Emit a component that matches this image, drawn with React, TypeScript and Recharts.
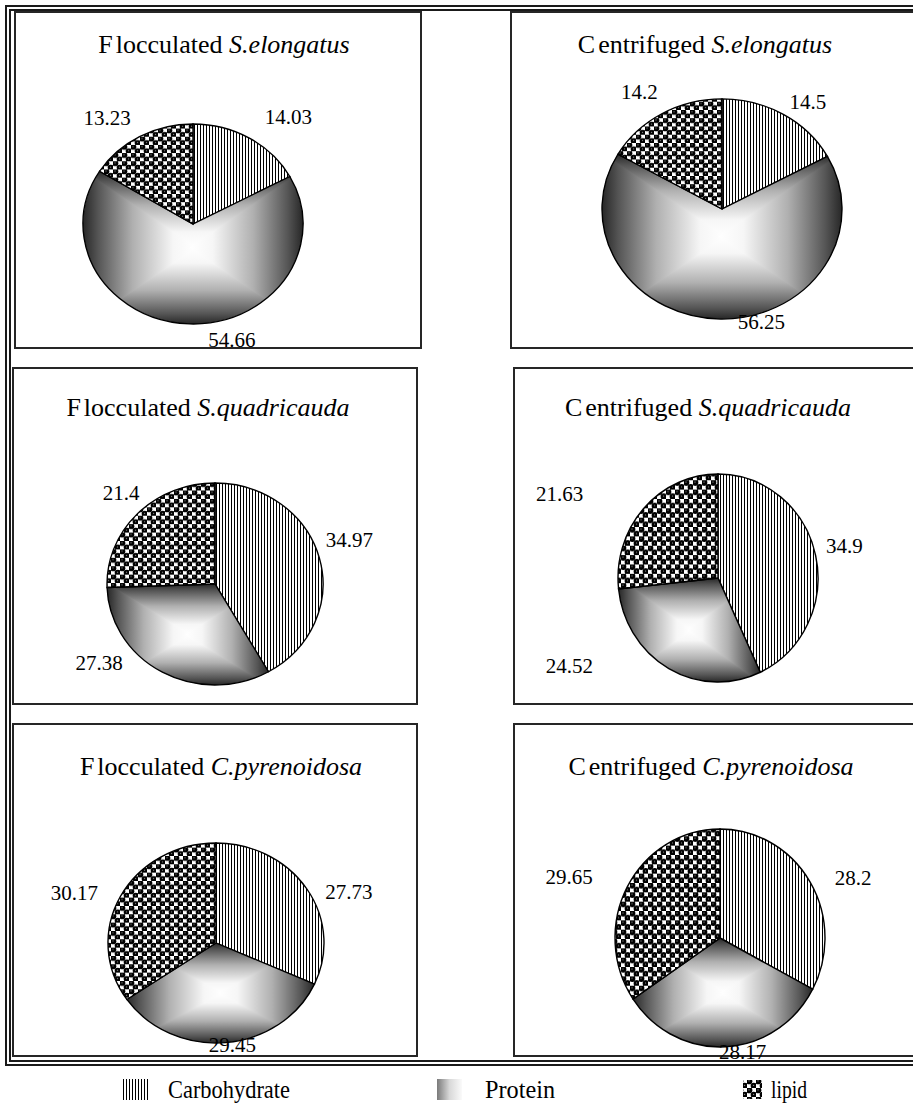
import React from "react";
import { PieChart, Pie, Cell } from "recharts";

const categories = ["Carbohydrate", "Protein", "lipid"];
const methods = ["Flocculated", "Centrifuged"];
const species = ["S.elongatus", "S.quadricauda", "C.pyrenoidosa"];

// biochemical composition, in category order
const flocculatedElongatus = [14.03, 54.66, 13.23];
const centrifugedElongatus = [14.5, 56.25, 14.2];
const flocculatedQuadricauda = [34.97, 27.38, 21.4];
const centrifugedQuadricauda = [34.9, 24.52, 21.63];
const flocculatedPyrenoidosa = [27.73, 29.45, 30.17];
const centrifugedPyrenoidosa = [28.2, 28.17, 29.65];

const panelValues = [
  flocculatedElongatus,
  centrifugedElongatus,
  flocculatedQuadricauda,
  centrifugedQuadricauda,
  flocculatedPyrenoidosa,
  centrifugedPyrenoidosa,
];

// box placement, pie centre / radius, vertical squash (k) and label nudges
const layout = [
  { left: 14, top: 11, w: 408, h: 338, cx: 179, cy: 213, r: 110, k: 0.909, tx: 210, ty: 42, nudge: [[4, -4], [43, -4], [2, -1]] },
  { left: 510, top: 11, w: 410, h: 338, cx: 212, cy: 198, r: 120, k: 0.917, tx: 195, ty: 42, nudge: [[-5, 5], [41, -17], [7, -4]] },
  { left: 12, top: 367, w: 406, h: 338, cx: 203, cy: 217, r: 108, k: 0.935, tx: 196, ty: 49, nudge: [[-15, -13], [-29, -27], [18, -7]] },
  { left: 513, top: 367, w: 410, h: 338, cx: 205, cy: 211, r: 100, k: 1.04, tx: 195, ty: 49, nudge: [[-11, -5], [-65, -22], [-44, 1]] },
  { left: 12, top: 723, w: 406, h: 334, cx: 204, cy: 220, r: 108, k: 0.926, tx: 209, ty: 52, nudge: [[0, 14], [5, -18], [-3, 6]] },
  { left: 513, top: 723, w: 410, h: 334, cx: 207, cy: 215, r: 105, k: 1.038, tx: 198, ty: 52, nudge: [[6, 8], [16, -18], [-15, 1]] },
];

const SERIF = '"Liberation Serif", "Times New Roman", serif';
const RAD = Math.PI / 180;

// centre-to-edge shade used by the protein fill
const SHADE: [string, string][] = [
  ["0", "#ffffff"],
  ["0.2", "#f6f6f6"],
  ["0.55", "#b0b0b0"],
  ["0.85", "#555555"],
  ["1", "#202020"],
];

function Fills({ id }: { id: string }) {
  const grad = (name: string, x1: number, y1: number, x2: number, y2: number) => (
    <linearGradient id={`${name}-${id}`} x1={x1} y1={y1} x2={x2} y2={y2}>
      {SHADE.map(([o, c]) => (
        <stop key={o} offset={o} stopColor={c} />
      ))}
    </linearGradient>
  );
  return (
    <defs>
      <pattern id={`carb-${id}`} width={3} height={4} patternUnits="userSpaceOnUse">
        <rect width={3} height={4} fill="#fff" />
        <rect width={1} height={4} fill="#000" />
      </pattern>
      {grad("gt", 0, 1, 0, 0)}
      {grad("gb", 0, 0, 0, 1)}
      {grad("gl", 1, 0, 0, 0)}
      {grad("gr", 0, 0, 1, 0)}
      {/* rectangular "from centre" shade: four triangles meeting at the middle */}
      <pattern
        id={`prot-${id}`}
        patternUnits="objectBoundingBox"
        patternContentUnits="objectBoundingBox"
        width={1}
        height={1}
      >
        <polygon points="-0.01,-0.01 1.01,-0.01 0.5,0.5" fill={`url(#gt-${id})`} />
        <polygon points="-0.01,1.01 1.01,1.01 0.5,0.5" fill={`url(#gb-${id})`} />
        <polygon points="-0.01,-0.02 -0.01,1.02 0.515,0.5" fill={`url(#gl-${id})`} />
        <polygon points="1.01,-0.02 1.01,1.02 0.485,0.5" fill={`url(#gr-${id})`} />
      </pattern>
      <linearGradient id={`protkey-${id}`} x1={0} y1={0} x2={1} y2={0}>
        <stop offset="0" stopColor="#7a7a7a" />
        <stop offset="0.5" stopColor="#d8d8d8" />
        <stop offset="1" stopColor="#fafafa" />
      </linearGradient>
      <radialGradient id={`ball-${id}`} cx="0.5" cy="0.5" r="0.5" fx="0.45" fy="0.42">
        <stop offset="0" stopColor="#b0b0b0" />
        <stop offset="0.16" stopColor="#444" />
        <stop offset="0.36" stopColor="#000" />
        <stop offset="1" stopColor="#000" />
      </radialGradient>
      <pattern id={`lipid-${id}`} width={9} height={9} patternUnits="userSpaceOnUse">
        <rect width={9} height={9} fill="#fff" />
        <circle cx={2.25} cy={2.25} r={3.1} fill={`url(#ball-${id})`} />
        <circle cx={6.75} cy={6.75} r={3.1} fill={`url(#ball-${id})`} />
      </pattern>
    </defs>
  );
}

const fillIds = ["carb", "prot", "lipid"];

function Panel({ index }: { index: number }) {
  const p = layout[index];
  const values = panelValues[index];
  const data = categories.map((name, i) => ({ name, value: values[i] }));
  const id = `p${index}`;
  const method = methods[index % 2];
  const name = species[Math.floor(index / 2)];

  const renderLabel = (props: any) => {
    const { cx, cy, midAngle, outerRadius, value, index: i } = props;
    const a = -midAngle * RAD;
    const rr = outerRadius + 22;
    const c = Math.cos(a);
    const s = Math.sin(a);
    const [dx, dy] = p.nudge[i];
    const X = cx + rr * c + dx;
    const Y = cy + rr * s * p.k + dy;
    const yl = cy + (Y - cy) / p.k;
    const anchor = Math.abs(c) < 0.3 ? "middle" : c > 0 ? "start" : "end";
    return (
      <text
        key={`lbl-${i}`}
        transform={`translate(${X} ${yl}) scale(1 ${1 / p.k})`}
        textAnchor={anchor}
        dominantBaseline="central"
        fontFamily={SERIF}
        fontSize={21}
        fill="#000"
      >
        {value}
      </text>
    );
  };

  return (
    <div style={{ position: "absolute", left: p.left, top: p.top, width: p.w, height: p.h }}>
      <div
        style={{
          position: "absolute",
          left: 0,
          top: 0,
          width: p.w,
          height: p.h,
          boxSizing: "border-box",
          border: "2px solid #262626",
        }}
      />
      <div
        style={{
          position: "absolute",
          left: 0,
          top: 0,
          transform: `scale(1, ${p.k})`,
          transformOrigin: `0px ${p.cy}px`,
        }}
      >
        <PieChart width={p.w} height={p.h + 70} margin={{ top: 0, right: 0, bottom: 0, left: 0 }}>
          <Fills id={id} />
          <Pie
            data={data}
            dataKey="value"
            nameKey="name"
            cx={p.cx}
            cy={p.cy}
            outerRadius={p.r}
            startAngle={90}
            endAngle={-270}
            stroke="#000"
            strokeWidth={1.4}
            labelLine={false}
            label={renderLabel}
            isAnimationActive={false}
          >
            {data.map((d, i) => (
              <Cell key={d.name} fill={`url(#${fillIds[i]}-${id})`} />
            ))}
          </Pie>
        </PieChart>
      </div>
      <svg
        width={p.w}
        height={80}
        style={{ position: "absolute", left: 0, top: 0, overflow: "visible" }}
      >
        <text x={p.tx} y={p.ty} textAnchor="middle" fontFamily={SERIF} fontSize={26} fill="#000">
          <tspan>{method.charAt(0)}</tspan>
          <tspan dx={3}>{method.slice(1)} </tspan>
          <tspan fontStyle="italic">{name}</tspan>
        </text>
      </svg>
    </div>
  );
}

function Legend() {
  return (
    <svg
      width={913}
      height={44}
      style={{ position: "absolute", left: 0, top: 1070 }}
    >
      <Fills id="lg" />
      <rect x={122} y={9} width={28} height={21} fill="url(#carb-lg)" />
      <text x={168} y={28} fontFamily={SERIF} fontSize={26} textLength={122} lengthAdjust="spacingAndGlyphs">
        {categories[0]}
      </text>
      <rect x={437} y={9} width={25} height={21} fill="url(#protkey-lg)" />
      <text x={485} y={28} fontFamily={SERIF} fontSize={26} textLength={70} lengthAdjust="spacingAndGlyphs">
        {categories[1]}
      </text>
      <rect x={743} y={10} width={19} height={19} fill="url(#lipid-lg)" />
      <text x={771} y={28} fontFamily={SERIF} fontSize={26} textLength={36} lengthAdjust="spacingAndGlyphs">
        {categories[2]}
      </text>
    </svg>
  );
}

export default function App() {
  return (
    <div
      style={{
        position: "absolute",
        left: 0,
        top: 0,
        width: 913,
        height: 1114,
        overflow: "hidden",
        background: "#fff",
      }}
    >
      <div
        style={{
          position: "absolute",
          left: 5,
          top: 5,
          width: 960,
          height: 1061,
          boxSizing: "border-box",
          border: "6px double #1a1a1a",
        }}
      />
      {layout.map((_, i) => (
        <Panel key={i} index={i} />
      ))}
      <Legend />
    </div>
  );
}
